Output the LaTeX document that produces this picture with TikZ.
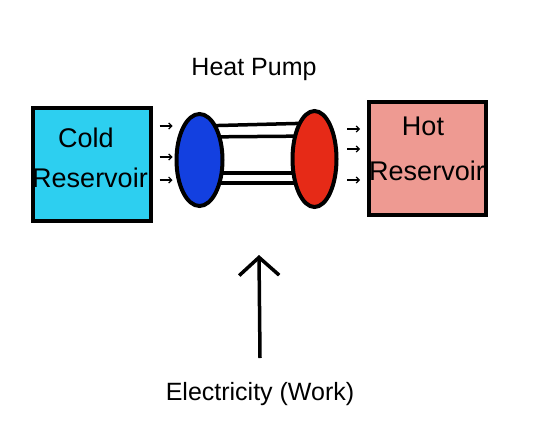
\documentclass[tikz,border=0pt]{standalone}
\usepackage{fontspec}
\setmainfont{Liberation Sans}
\usetikzlibrary{arrows.meta,backgrounds,shapes.geometric}
\definecolor{coldfill}{HTML}{2DCFF0}
\definecolor{hotfill}{HTML}{EE9A92}
\definecolor{evapblue}{HTML}{1340E0}
\definecolor{condred}{HTML}{E62A17}
\begin{document}
\begin{tikzpicture}[x=1pt,y=-1pt,
  reservoir/.style={draw,line width=4pt,minimum width=118pt,minimum height=113pt},
  coil/.style={draw,ellipse,line width=4pt,minimum width=46pt,minimum height=92pt},
  tiny/.style={-{Straight Barb[length=3pt,width=6pt]},line width=1.2pt},
  big/.style={font=\fontsize{25}{30}\selectfont,anchor=base},
  inbox/.style={font=\fontsize{27}{30}\selectfont,anchor=base}]
\useasboundingbox (0,0) rectangle (540,431);
\node[reservoir,fill=coldfill] (cold) at (91.5,164) {};
\node[reservoir,fill=hotfill,minimum width=117pt] (hot) at (427.5,158.5) {};
\node[inbox] at (86,147) {Cold};
\node[inbox] at (90,187) {Reservoir};
\node[inbox] at (423,135) {Hot};
\node[inbox] at (427,180) {Reservoir};
\node[coil,fill=evapblue] (evap) at (199.5,160) {};
\node[coil,fill=condred,minimum width=44pt,minimum height=96pt] (cond) at (314.5,159) {};
% pipes behind the coils
\begin{pgfonlayer}{background}
\foreach \a/\b in {34/36,23/23,-13/-14,-23/-24}
  \draw[line width=3.5pt] ([yshift=\a pt]evap.center) -- ([yshift=\b pt]cond.center);
\end{pgfonlayer}
\foreach \s in {38,7,-16}
  \draw[tiny] ([xshift=7pt,yshift=\s pt]cold.east) -- ++(13,0);
\foreach \s in {29.5,9.5,-21.5}
  \draw[tiny] ([xshift=-20pt,yshift=\s pt]hot.west) -- ++(13,0);
\node[big] (pump) at (254,75) {Heat Pump};
\node[big] (elec) at (260,400) {Electricity (Work)};
\coordinate (wbot) at (260,358);
\coordinate (wtop) at (259,255);
\draw[-{Straight Barb[length=18pt,width=40pt]},line width=3.5pt] (wbot) -- (wtop);
\end{tikzpicture}
\end{document}
